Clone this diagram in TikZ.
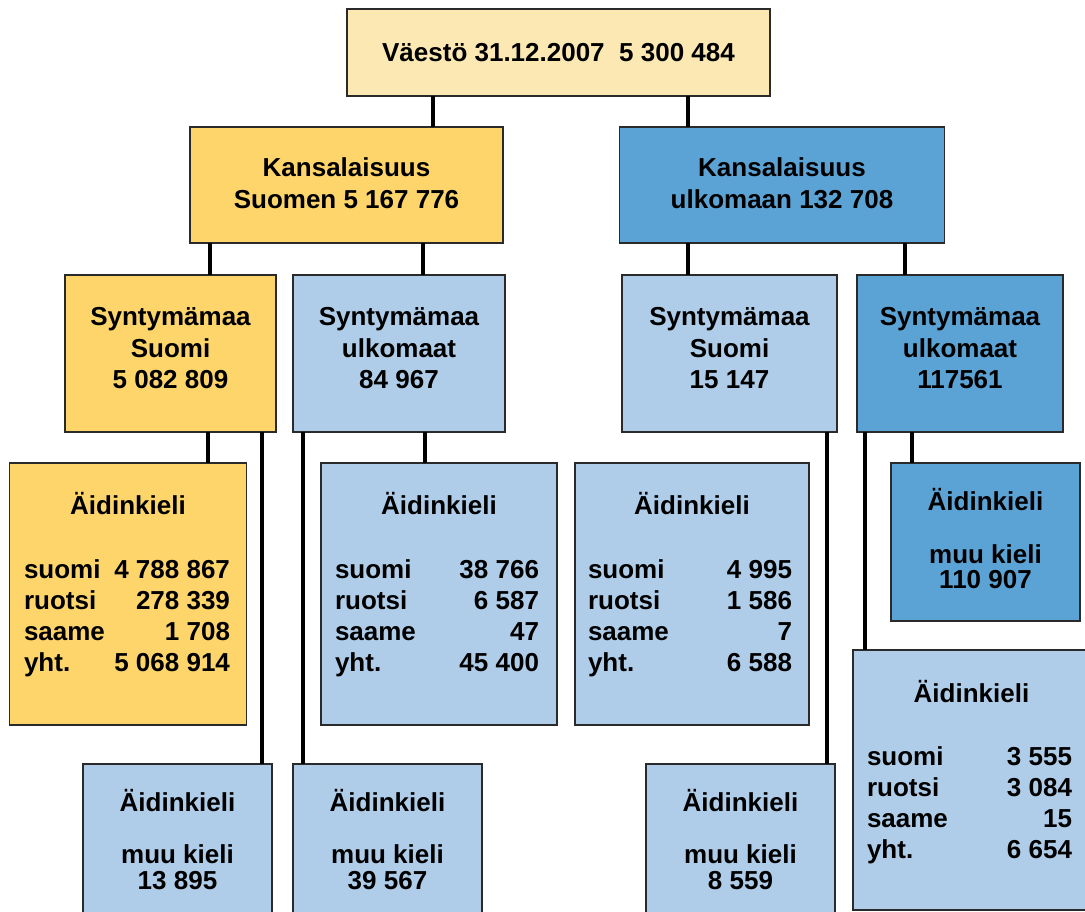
\documentclass[tikz,border=0pt]{standalone}
\usepackage{fontspec}
\setmainfont{Liberation Sans}
\definecolor{topfill}{HTML}{FCE8B2}
\definecolor{yel}{HTML}{FDD56A}
\definecolor{lblue}{HTML}{AFCDE8}
\definecolor{dblue}{HTML}{5CA3D5}
\definecolor{edge}{HTML}{2A2A2A}
\tikzset{
  box/.style={draw=edge, line width=1.5pt, inner sep=0pt, outer sep=0pt},
  txt/.style={font=\fontsize{26}{31}\selectfont\bfseries, inner sep=0pt, outer sep=0pt, anchor=base},
  lab/.style={txt, anchor=base west},
  num/.style={txt, anchor=base east},
  conn/.style={line width=3.5pt, black, line cap=butt},
}
\newcommand{\boxat}[4]{% name, x1,y1,x2,y2 handled below
}
\begin{document}
\begin{tikzpicture}[x=1pt,y=-1pt]
\fill[white] (0,0) rectangle (1085,912);
\useasboundingbox (0,0) rectangle (1085,912);
\clip (0,0) rectangle (1085,912);
% boxes
\node[box, fill=topfill, minimum width=423pt, minimum height=87pt] (top) at (558.5,52.5) {};
\node[box, fill=yel, minimum width=313pt, minimum height=116pt] (kfi) at (346.5,185) {};
\node[box, fill=dblue, minimum width=325pt, minimum height=116pt] (kul) at (782,185) {};
\node[box, fill=yel, minimum width=211pt, minimum height=157pt] (s1) at (170.5,353.5) {};
\node[box, fill=lblue, minimum width=212pt, minimum height=157pt] (s2) at (399,353.5) {};
\node[box, fill=lblue, minimum width=215pt, minimum height=157pt] (s3) at (729.5,353.5) {};
\node[box, fill=dblue, minimum width=206pt, minimum height=157pt] (s4) at (960,353.5) {};
\node[box, fill=yel, minimum width=237pt, minimum height=262pt] (a1) at (128,594) {};
\node[box, fill=lblue, minimum width=236pt, minimum height=262pt] (a2) at (439,594) {};
\node[box, fill=lblue, minimum width=234pt, minimum height=262pt] (a3) at (692,594) {};
\node[box, fill=dblue, minimum width=189pt, minimum height=158pt] (a4) at (985.5,542) {};
\node[box, fill=lblue, minimum width=189pt, minimum height=170pt] (m1) at (177.5,849) {};
\node[box, fill=lblue, minimum width=189pt, minimum height=170pt] (m2) at (387.5,849) {};
\node[box, fill=lblue, minimum width=189pt, minimum height=170pt] (m3) at (740.5,849) {};
\node[box, fill=lblue, minimum width=237pt, minimum height=260pt] (b4) at (971.5,780) {};
% connectors
\draw[conn] (top.south -| 433,0) -- (kfi.north -| 433,0);
\draw[conn] (top.south -| 688,0) -- (kul.north -| 688,0);
\draw[conn] (kfi.south -| 210,0) -- (s1.north -| 210,0);
\draw[conn] (kfi.south -| 423,0) -- (s2.north -| 423,0);
\draw[conn] (kul.south -| 688,0) -- (s3.north -| 688,0);
\draw[conn] (kul.south -| 905,0) -- (s4.north -| 905,0);
\draw[conn] (s1.south -| 208,0) -- (a1.north -| 208,0);
\draw[conn] (s1.south -| 262,0) -- (m1.north -| 262,0);
\draw[conn] (s2.south -| 303,0) -- (m2.north -| 303,0);
\draw[conn] (s2.south -| 425,0) -- (a2.north -| 425,0);
\draw[conn] (s3.south -| 827,0) -- (m3.north -| 827,0);
\draw[conn] (s4.south -| 865,0) -- (b4.north -| 865,0);
\draw[conn] (s4.south -| 912,0) -- (a4.north -| 912,0);
% texts
\node[txt] (ttop) at (558.5,62) {Väestö 31.12.2007\ \ 5 300 484};
\node[txt] (tkfi1) at (346.5,177) {Kansalaisuus};
\node[txt] (tkfi2) at (346.5,209) {Suomen 5 167 776};
\node[txt] (tkul1) at (782,177) {Kansalaisuus};
\node[txt] (tkul2) at (782,209) {ulkomaan 132 708};
\node[txt] (ts1a) at (170.5,325) {Syntymämaa};
\node[txt] (ts1b) at (170.5,357) {Suomi};
\node[txt] (ts1c) at (170.5,388) {5 082 809};
\node[txt] (ts2a) at (399,325) {Syntymämaa};
\node[txt] (ts2b) at (399,357) {ulkomaat};
\node[txt] (ts2c) at (399,388) {84 967};
\node[txt] (ts3a) at (729.5,325) {Syntymämaa};
\node[txt] (ts3b) at (729.5,357) {Suomi};
\node[txt] (ts3c) at (729.5,388) {15 147};
\node[txt] (ts4a) at (960,325) {Syntymämaa};
\node[txt] (ts4b) at (960,357) {ulkomaat};
\node[txt] (ts4c) at (960,388) {117561};
% table 1
\node[txt] (ta1) at (128,514) {Äidinkieli};
\node[lab] (l11) at (24,578) {suomi};
\node[lab] (l12) at (24,609) {ruotsi};
\node[lab] (l13) at (24,640) {saame};
\node[lab] (l14) at (24,671) {yht.};
\node[num] (n11) at (230,578) {4 788 867};
\node[num] (n12) at (230,609) {278 339};
\node[num] (n13) at (230,640) {1 708};
\node[num] (n14) at (230,671) {5 068 914};
% table 2
\node[txt] (ta2) at (439,514) {Äidinkieli};
\node[lab] (l21) at (335,578) {suomi};
\node[lab] (l22) at (335,609) {ruotsi};
\node[lab] (l23) at (335,640) {saame};
\node[lab] (l24) at (335,671) {yht.};
\node[num] (n21) at (539,578) {38 766};
\node[num] (n22) at (539,609) {6 587};
\node[num] (n23) at (539,640) {47};
\node[num] (n24) at (539,671) {45 400};
% table 3
\node[txt] (ta3) at (692,514) {Äidinkieli};
\node[lab] (l31) at (588,578) {suomi};
\node[lab] (l32) at (588,609) {ruotsi};
\node[lab] (l33) at (588,640) {saame};
\node[lab] (l34) at (588,671) {yht.};
\node[num] (n31) at (792,578) {4 995};
\node[num] (n32) at (792,609) {1 586};
\node[num] (n33) at (792,640) {7};
\node[num] (n34) at (792,671) {6 588};
% table 4
\node[txt] (tb4) at (971.5,702) {Äidinkieli};
\node[lab] (l41) at (867,765) {suomi};
\node[lab] (l42) at (867,796) {ruotsi};
\node[lab] (l43) at (867,827) {saame};
\node[lab] (l44) at (867,858) {yht.};
\node[num] (n41) at (1072,765) {3 555};
\node[num] (n42) at (1072,796) {3 084};
\node[num] (n43) at (1072,827) {15};
\node[num] (n44) at (1072,858) {6 654};
% muu kieli boxes
\node[txt] (ta4a) at (985.5,510) {Äidinkieli};
\node[txt] (ta4b) at (985.5,563) {muu kieli};
\node[txt] (ta4c) at (985.5,588) {110 907};
\node[txt] (tm1a) at (177.5,811) {Äidinkieli};
\node[txt] (tm1b) at (177.5,863) {muu kieli};
\node[txt] (tm1c) at (177.5,889) {13 895};
\node[txt] (tm2a) at (387.5,811) {Äidinkieli};
\node[txt] (tm2b) at (387.5,863) {muu kieli};
\node[txt] (tm2c) at (387.5,889) {39 567};
\node[txt] (tm3a) at (740.5,811) {Äidinkieli};
\node[txt] (tm3b) at (740.5,863) {muu kieli};
\node[txt] (tm3c) at (740.5,889) {8 559};
\end{tikzpicture}
\end{document}
